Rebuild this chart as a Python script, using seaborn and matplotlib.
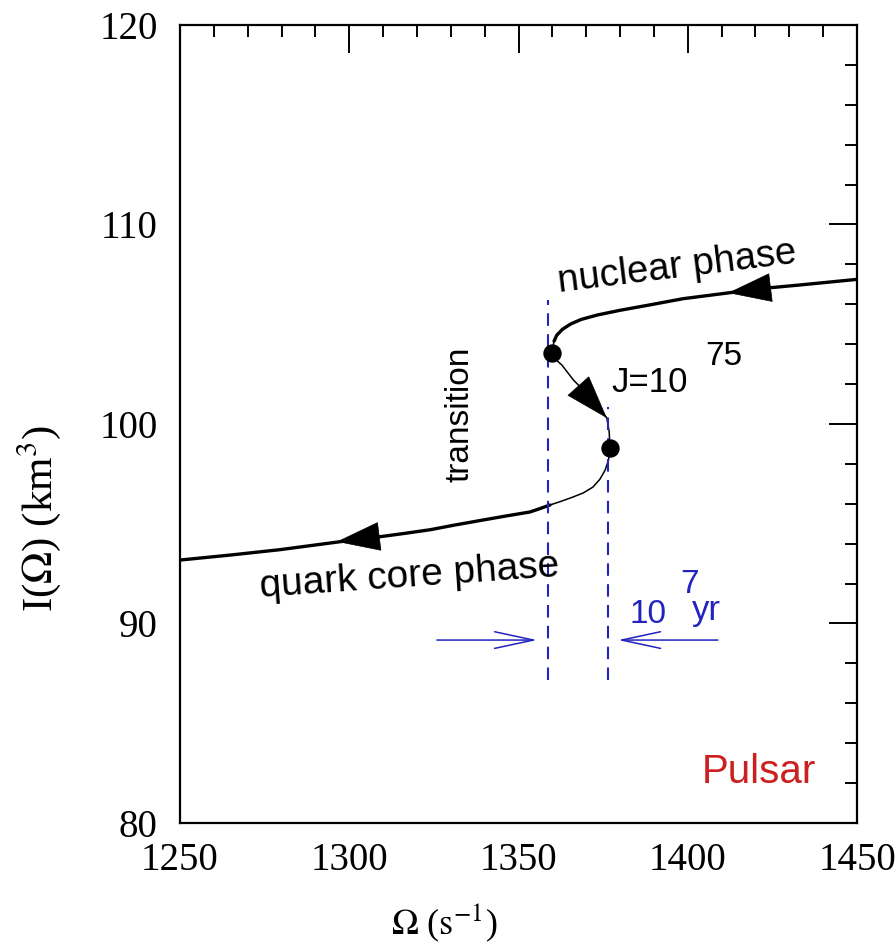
import numpy as np
import pandas as pd
import matplotlib
matplotlib.use("Agg")
import matplotlib.pyplot as plt
import seaborn as sns

# ---- data ----
upper_omega = [1450.0, 1433.2, 1423.7, 1411.9, 1398.6, 1388.8, 1380.0, 1373.2, 1368.5,
               1365.5, 1363.0, 1361.3, 1360.5]
upper_I = [107.25, 106.97, 106.82, 106.57, 106.28, 105.97, 105.70, 105.46, 105.24,
           105.02, 104.75, 104.45, 104.15]

middle_omega = [1360.5, 1359.8, 1360.5, 1362.8, 1366.2, 1371.5, 1376.1, 1376.8, 1377.0,
                1376.6, 1375.6, 1374.0, 1372.0, 1369.2, 1366.1, 1362.5, 1359.3]
middle_I = [104.15, 103.56, 103.30, 102.96, 102.21, 101.30, 100.30, 99.60, 98.80,
            98.20, 97.69, 97.22, 96.84, 96.55, 96.34, 96.12, 95.94]

lower_omega = [1359.3, 1356.0, 1353.4, 1346.0, 1338.6, 1331.0, 1323.9, 1316.5, 1309.1,
               1297.3, 1279.5, 1264.8, 1250.0]
lower_I = [95.94, 95.74, 95.59, 95.38, 95.16, 94.93, 94.70, 94.52, 94.35,
           94.10, 93.70, 93.43, 93.18]

dot_omega = [1359.8, 1377.0]
dot_I = [103.56, 98.80]

arrow_tip_omega = [1411.9, 1376.1, 1296.3]
arrow_tip_I = [106.57, 100.30, 94.10]
arrow_base_omega = [1423.7, 1367.7, 1310.1]
arrow_base_I = [106.82, 101.90, 94.39]

trans_omega = [1358.7, 1376.4]
trans_top = [106.2, 100.87]
trans_bottom = [87.17, 87.17]

time_arrow_start = [1325.9, 1408.9]
time_arrow_end = [1355.5, 1379.4]
time_arrow_I = 89.17

x_ticks = [1250, 1300, 1350, 1400, 1450]
y_ticks = [80, 90, 100, 110, 120]

# ---- styling ----
sns.set_theme(style="white")
plt.rcParams["font.family"] = ["Liberation Serif", "DejaVu Serif"]
plt.rcParams["mathtext.fontset"] = "stix"
plt.rcParams["text.color"] = "black"
plt.rcParams["axes.labelcolor"] = "black"
plt.rcParams["xtick.color"] = "black"
plt.rcParams["ytick.color"] = "black"

fig = plt.figure(figsize=(8.96, 9.44), dpi=100)
ax = fig.add_axes([180 / 896, 1 - 823 / 944, 677 / 896, 798 / 944])

seg = pd.concat([
    pd.DataFrame({"omega": upper_omega, "I": upper_I, "part": "upper"}),
    pd.DataFrame({"omega": middle_omega, "I": middle_I, "part": "middle"}),
    pd.DataFrame({"omega": lower_omega, "I": lower_I, "part": "lower"}),
])
for part, lw in [("upper", 2.4), ("middle", 1.1), ("lower", 2.4)]:
    sns.lineplot(data=seg[seg.part == part], x="omega", y="I", sort=False,
                 color="black", lw=lw, ax=ax, estimator=None)

sns.scatterplot(x=dot_omega, y=dot_I, color="black", s=150, ax=ax, zorder=5,
                edgecolor="black")

for tx, ty, bx, by in zip(arrow_tip_omega, arrow_tip_I, arrow_base_omega, arrow_base_I):
    ax.annotate("", xy=(tx, ty), xytext=(bx, by),
                arrowprops=dict(arrowstyle="-|>,head_length=3.0,head_width=1.0",
                                color="black", lw=0.5, mutation_scale=10,
                                shrinkA=0, shrinkB=0))

blue = "#2323c0"
ax.vlines(trans_omega, trans_bottom, trans_top, colors=blue, lw=1.5,
          linestyles=(0, (6, 4)))
for s, e in zip(time_arrow_start, time_arrow_end):
    ax.annotate("", xy=(e, time_arrow_I), xytext=(s, time_arrow_I),
                arrowprops=dict(arrowstyle="->,head_length=2.8,head_width=0.6",
                                color=blue, lw=1.1, mutation_scale=10,
                                shrinkA=0, shrinkB=0))

# ---- text ----
sans = ["Liberation Sans", "DejaVu Sans"]
ax.text(1397.1, 107.34, "nuclear phase", family=sans, fontsize=27.5, rotation=7,
        ha="center", va="baseline", rotation_mode="anchor")
ax.text(1317.9, 91.83, "quark core phase", family=sans, fontsize=28, rotation=4,
        ha="center", va="baseline", rotation_mode="anchor")
ax.text(1332.7, 100.5, "transition", family=sans, fontsize=24, rotation=90,
        ha="center", va="center")
ax.text(1377.6, 101.6, "J=10", family=sans, fontsize=25, ha="left", va="baseline")
ax.text(1405.1, 102.96, "75", family=sans, fontsize=24, ha="left", va="baseline")
ax.text(1382.9, 90.03, "10", family=sans, fontsize=24, ha="left", va="baseline",
        color=blue)
ax.text(1397.7, 91.53, "7", family=sans, fontsize=24, ha="left", va="baseline",
        color=blue)
ax.text(1401.3, 90.2, "yr", family=sans, fontsize=25, ha="left", va="baseline",
        color=blue)
ax.text(1404.2, 82.0, "Pulsar", family=sans, fontsize=29, ha="left", va="baseline",
        color="#cc1f1f")

# ---- axes ----
ax.set_xlim(1250, 1450)
ax.set_ylim(80, 120)
ax.set_xticks(x_ticks)
ax.set_yticks(y_ticks)
ax.set_xticks(np.arange(1250, 1451, 10), minor=True)
ax.set_yticks(np.arange(80, 121, 2), minor=True)
ax.tick_params(which="both", direction="in", top=True, right=True, width=1.4,
               color="black", labelcolor="black")
ax.tick_params(which="major", length=20, labelsize=28)
ax.tick_params(which="minor", length=8.5)
ax.tick_params(axis="y", which="major", pad=16)
ax.tick_params(axis="x", which="major", pad=14)
for sp in ax.spines.values():
    sp.set_color("black")
    sp.set_linewidth(1.6)

ax.set_xlabel(r"$\Omega$ ($\mathrm{s}^{-1}$)", fontsize=26)
ax.set_ylabel(r"I($\Omega$) (km$^3$)", fontsize=31)
ax.xaxis.set_label_coords(0.391, -0.098)
ax.yaxis.set_label_coords(-0.173, 0.382)

fig.savefig("out.png", dpi=100, facecolor="white")
